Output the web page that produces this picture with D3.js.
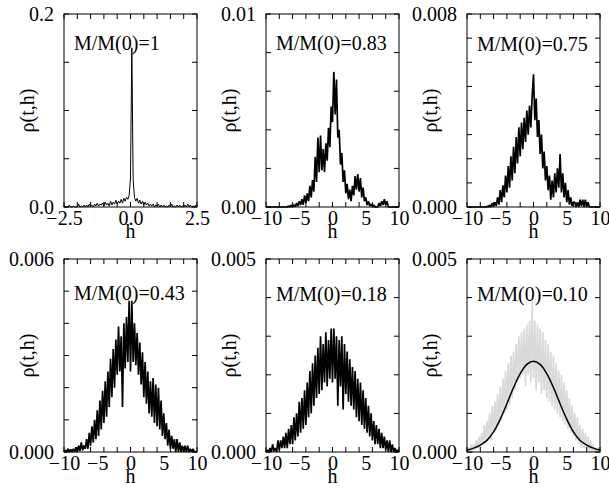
<!DOCTYPE html>
<html>
<head>
<meta charset="utf-8">
<script src="https://cdn.jsdelivr.net/npm/d3@7"></script>
<style>
  body { margin: 0; background: #fff; }
</style>
</head>
<body>
<svg id="chart" width="609" height="496"></svg>
<script>
// panel labels and y ranges
const panelLabels = ["M/M(0)=1", "M/M(0)=0.83", "M/M(0)=0.75", "M/M(0)=0.43", "M/M(0)=0.18", "M/M(0)=0.10"];
const yMaxes = [0.2, 0.01, 0.008, 0.006, 0.005, 0.005];
const yMinorSteps = [0.05, 0.002, 0.001, 0.001, 0.001, 0.001];
const yFormats = [".1f", ".2f", ".3f", ".3f", ".3f", ".3f"];

// x ticks
const xTicksNarrow = [-2.5, 0, 2.5];
const xTicksWide = [-10, -5, 0, 5, 10];

// histogram bins: h = start + i * step
const hStartNarrow = -2.5, hStepNarrow = 0.05;
const hStartWide = -10, hStepWide = 0.2;

// rho(t,h), M/M(0)=1
const rho1 = [0,0,0,0,0.002,0,0,0.001,0,0,
  0,0.003,0,0.001,0,0.002,0,0.002,0,0.003,
  0.001,0.002,0,0.003,0.001,0.004,0.001,0.003,0.002,0.004,
  0.001,0.005,0.002,0.004,0.001,0.006,0.002,0.005,0.003,0.007,
  0.003,0.006,0.004,0.008,0.004,0.009,0.006,0.010,0.008,0.012,
  0.030,0.165,0.028,0.010,0.006,0.009,0.004,0.007,0.003,0.006,
  0.002,0.005,0.002,0.004,0.001,0.003,0.001,0.003,0,0.002,
  0.001,0.003,0,0.002,0,0.002,0,0.001,0,0.002,
  0,0.003,0,0.001,0,0.002,0,0.002,0,0.001,
  0,0.002,0,0.003,0,0.002,0,0.001,0,0.002,0];

// M/M(0)=0.83
const rho2 = [0,0,0,0,0,0,0,0,0,0,
  0,0,0,0,0,0,0,0.00005,0,0.0001,
  0,0.00012,0.00002,0.0002,0.00005,0.0003,0.0001,0.0004,0.00012,0.0006,
  0.0002,0.0007,0.0003,0.0011,0.0005,0.0014,0.0008,0.0026,0.0013,0.0036,
  0.0018,0.0037,0.0019,0.0030,0.0018,0.0033,0.0024,0.0041,0.0031,0.0052,
  0.0044,0.0070,0.0048,0.0066,0.0036,0.0040,0.0022,0.0028,0.0013,0.0019,
  0.0007,0.0012,0.0004,0.0009,0.0003,0.0011,0.0006,0.0016,0.0009,0.0017,
  0.0008,0.0015,0.0005,0.0010,0.0003,0.0005,0.0001,0.0003,0.00005,0.00015,
  0,0.0001,0,0,0,0.0002,0.00005,0.0003,0.0001,0.0004,
  0.0001,0.0003,0,0,0,0,0,0,0,0,0];

// M/M(0)=0.75
const rho3 = [0,0,0,0,0,0,0,0,0,0,
  0,0,0,0,0,0.00003,0,0.00008,0,0.00015,
  0.00002,0.0002,0.00005,0.0004,0.0001,0.0007,0.0002,0.0009,0.0004,0.0013,
  0.0006,0.0017,0.0008,0.0021,0.0011,0.0025,0.0014,0.0029,0.0018,0.0033,
  0.0021,0.0035,0.0024,0.0037,0.0027,0.0040,0.0030,0.0042,0.0033,0.0046,
  0.0055,0.0036,0.0045,0.0029,0.0036,0.0022,0.0030,0.0016,0.0023,0.0011,
  0.0017,0.0007,0.0013,0.0003,0.0011,0.0004,0.0014,0.0006,0.0016,0.0008,
  0.0022,0.0006,0.0014,0.0004,0.0010,0.0002,0.0007,0.0001,0.0004,0.00005,
  0.0002,0.0002,0,0.0002,0,0.0003,0.00005,0.0003,0,0.0003,
  0,0.0002,0,0,0,0,0,0,0,0,0];

// M/M(0)=0.43
const rho4 = [0,0.00005,0,0.0001,0,0.00008,0,0.0001,0,0.00015,
  0,0.0002,0.00003,0.0003,0.00005,0.0002,0.0001,0.0004,0.0001,0.0006,
  0.0002,0.0008,0.0003,0.0010,0.0004,0.0013,0.0005,0.0016,0.0007,0.0019,
  0.0009,0.0022,0.0011,0.0025,0.0014,0.0029,0.0017,0.0032,0.0020,0.0035,
  0.0024,0.0039,0.0025,0.0036,0.0014,0.0040,0.0026,0.0042,0.0028,0.0047,
  0.0025,0.0047,0.0028,0.0040,0.0027,0.0037,0.0024,0.0034,0.0021,0.0031,
  0.0017,0.0028,0.0015,0.0025,0.0012,0.0022,0.0011,0.0023,0.0009,0.0021,
  0.0008,0.0020,0.0007,0.0016,0.0005,0.0012,0.0004,0.0009,0.0002,0.0007,
  0.0001,0.0005,0.0001,0.0004,0,0.0004,0,0.0003,0,0.0002,
  0,0.0002,0,0.0002,0,0.0001,0,0.0001,0,0,0];

// M/M(0)=0.18
const rho5 = [0,0.00005,0,0.0001,0,0.0002,0.00002,0.0001,0,0.0003,
  0.00005,0.0003,0.0001,0.0004,0.0001,0.0005,0.0001,0.0006,0.0002,0.0007,
  0.0002,0.0009,0.0003,0.0010,0.0004,0.0013,0.0005,0.0014,0.0006,0.0016,
  0.0007,0.0018,0.0009,0.0021,0.0010,0.0023,0.0012,0.0025,0.0014,0.0027,
  0.0015,0.0030,0.0016,0.0028,0.0018,0.0031,0.0017,0.0029,0.0019,0.0032,
  0.0018,0.0032,0.0019,0.0030,0.0012,0.0029,0.0017,0.0030,0.0011,0.0028,
  0.0015,0.0026,0.0013,0.0024,0.0012,0.0022,0.0011,0.0021,0.0009,0.0019,
  0.0008,0.0018,0.0007,0.0016,0.0006,0.0014,0.0005,0.0012,0.0004,0.0010,
  0.0003,0.0008,0.0002,0.0007,0.0002,0.0006,0.0001,0.0005,0.0001,0.0004,
  0.00005,0.0003,0,0.0003,0,0.0002,0,0.0001,0,0.00005,0];

// M/M(0)=0.10, simulation (grey) and fit (black)
const rho6 = [0,0.0001,0,0.0002,0,0.0002,0.00005,0.0003,0.0001,0.0004,
  0.0001,0.0005,0.0002,0.0007,0.0002,0.0008,0.0003,0.0010,0.0003,0.0012,
  0.0005,0.0013,0.0006,0.0015,0.0007,0.0017,0.0008,0.0019,0.0010,0.0021,
  0.0011,0.0023,0.0012,0.0025,0.0014,0.0026,0.0016,0.0028,0.0018,0.0030,
  0.0019,0.0031,0.0020,0.0032,0.0017,0.0033,0.0020,0.0034,0.0018,0.0039,
  0.0019,0.0034,0.0016,0.0033,0.0018,0.0032,0.0015,0.0031,0.0016,0.0029,
  0.0014,0.0028,0.0013,0.0026,0.0012,0.0025,0.0011,0.0023,0.0010,0.0021,
  0.0009,0.0020,0.0008,0.0018,0.0007,0.0016,0.0006,0.0014,0.0005,0.0012,
  0.0004,0.0010,0.0003,0.0009,0.0002,0.0007,0.0001,0.0006,0.0001,0.0005,
  0.00005,0.0004,0,0.0003,0,0.0002,0,0.0001,0,0.0001,0];
const fitH = [-10,-9,-8,-7,-6,-5,-4,-3,-2,-1,0,1,2,3,4,5,6,7,8,9,10];
const fitRho = [0.00005,0.0001,0.00018,0.0003,0.00052,0.00085,0.00125,0.00167,0.00203,0.00227,0.00235,
  0.00227,0.00203,0.00167,0.00125,0.00085,0.00052,0.0003,0.00018,0.0001,0.00005];

const FONT = "'Liberation Serif', 'Times New Roman', Times, serif";
const FS = 20;

const svg = d3.select("#chart").attr("font-family", FONT);
svg.append("rect").attr("width", 609).attr("height", 496).attr("fill", "#fff");

const colLeft = [64, 266, 467];
const rowTop = [14, 259];
const pw = 133, ph = 193;
const labelDy = [36, 36, 37, 41, 42, 42];

const series = [rho1, rho2, rho3, rho4, rho5, rho6];

series.forEach((rho, k) => {
  const narrow = k === 0;
  const left = colLeft[k % 3];
  const top = rowTop[Math.floor(k / 3)];
  const g = svg.append("g").attr("transform", `translate(${left},${top})`);

  const x = d3.scaleLinear()
    .domain(narrow ? [-2.5, 2.5] : [-10, 10])
    .range([0, pw]);
  const y = d3.scaleLinear().domain([0, yMaxes[k]]).range([ph, 0]);

  const hStart = narrow ? hStartNarrow : hStartWide;
  const hStep = narrow ? hStepNarrow : hStepWide;
  const xMajor = narrow ? xTicksNarrow : xTicksWide;
  const xMinor = d3.range(x.domain()[0], x.domain()[1] + 1e-9, narrow ? 0.5 : 2);
  const yMinor = d3.range(0, yMaxes[k] + 1e-9, yMinorSteps[k]);

  const line = d3.line()
    .x((d, i) => x(hStart + i * hStep))
    .y(d => y(d));

  g.append("path")
    .datum(rho)
    .attr("fill", "none")
    .attr("stroke", k === 5 ? "#d9d9d9" : "#000")
    .attr("stroke-width", narrow ? 1 : 1.7)
    .attr("stroke-linejoin", "bevel")
    .attr("d", line);

  if (k === 5) {
    g.append("path")
      .datum(fitH.map((h, i) => [h, fitRho[i]]))
      .attr("fill", "none")
      .attr("stroke", "#000")
      .attr("stroke-width", 1.5)
      .attr("d", d3.line().x(d => x(d[0])).y(d => y(d[1])).curve(d3.curveCatmullRom));
  }

  // inward tick marks on all four sides
  const tickLen = 5;
  const ticks = g.append("g").attr("stroke", "#000").attr("stroke-width", 1);
  xMinor.forEach(v => {
    ticks.append("line").attr("x1", x(v)).attr("x2", x(v)).attr("y1", ph).attr("y2", ph - tickLen);
    ticks.append("line").attr("x1", x(v)).attr("x2", x(v)).attr("y1", 0).attr("y2", tickLen);
  });
  yMinor.forEach(v => {
    ticks.append("line").attr("x1", 0).attr("x2", tickLen).attr("y1", y(v)).attr("y2", y(v));
    ticks.append("line").attr("x1", pw).attr("x2", pw - tickLen).attr("y1", y(v)).attr("y2", y(v));
  });

  g.append("rect")
    .attr("width", pw).attr("height", ph)
    .attr("fill", "none").attr("stroke", "#000").attr("stroke-width", 1);

  // tick labels through the scales
  const xAxis = g.append("g")
    .attr("transform", `translate(0,${ph})`)
    .call(d3.axisBottom(x).tickValues(xMajor).tickSize(0).tickPadding(4)
      .tickFormat(narrow ? d3.format(".1f") : d3.format("d")));
  xAxis.attr("font-family", FONT).attr("font-size", FS);
  xAxis.select(".domain").remove();
  xAxis.selectAll("text").attr("fill", "#000");

  const yAxis = g.append("g")
    .call(d3.axisLeft(y).tickValues([0, yMaxes[k]]).tickSize(0).tickPadding(10)
      .tickFormat(d3.format(yFormats[k])));
  yAxis.attr("font-family", FONT).attr("font-size", FS);
  yAxis.select(".domain").remove();
  yAxis.selectAll("text").attr("fill", "#000");

  g.append("text")
    .attr("x", pw / 2).attr("y", ph + 31)
    .attr("text-anchor", "middle").attr("font-size", FS)
    .text("h");

  g.append("text")
    .attr("transform", `translate(-30,${ph / 2}) rotate(-90)`)
    .attr("text-anchor", "middle").attr("font-size", FS)
    .text("ρ(t,h)");

  g.append("text")
    .attr("x", 10).attr("y", labelDy[k])
    .attr("font-size", FS)
    .text(panelLabels[k]);
});
</script>
</body>
</html>
